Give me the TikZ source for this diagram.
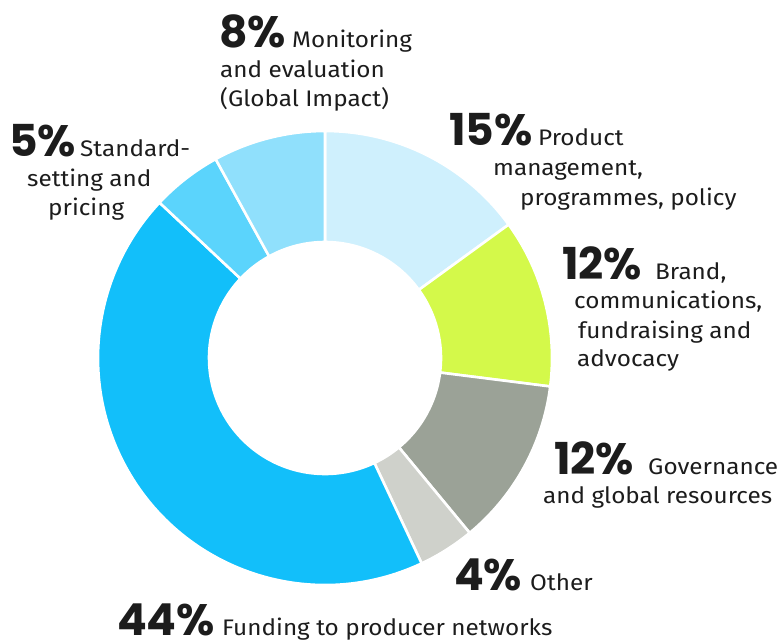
\documentclass[tikz,border=0pt]{standalone}
\usepackage{fontspec}
\setmainfont{Fira Sans}[FakeStretch=1.08]
\newfontfamily\pctfont{Poppins}
\usepackage{xcolor}
\usepackage{tikz}
\usetikzlibrary{positioning}

\definecolor{pmblue}{HTML}{CFF0FD}
\definecolor{brandlime}{HTML}{D4F94A}
\definecolor{govgray}{HTML}{9BA297}
\definecolor{othergray}{HTML}{CFD1CB}
\definecolor{fundblue}{HTML}{12BFFA}
\definecolor{stdblue}{HTML}{5BD4FC}
\definecolor{monblue}{HTML}{90E0FC}
\definecolor{inkdark}{HTML}{1C1C1C}

\tikzset{
  pct/.style={inner sep=0, anchor=base west, text=inkdark,
    font=\pctfont\bfseries\fontsize{44}{44}\selectfont},
  lbl/.style={inner sep=0, anchor=base west, text=inkdark,
    font=\fontsize{22.5}{30}\selectfont},
  slice/.style={draw=white, line width=2.6}
}

\begin{document}
\begin{tikzpicture}[x=1pt,y=1pt]
    \useasboundingbox (0,-641) rectangle (779,0);
    % ring
    \begin{scope}[shift={(325,-358)}]
      \foreach \a/\b/\c in {90/36/pmblue, 36/-7.2/brandlime, -7.2/-50.4/govgray,
                            -50.4/-64.8/othergray, -64.8/-223.2/fundblue,
                            136.8/118.8/stdblue, 118.8/90/monblue}
        \fill[\c, slice] (\a:227) arc[start angle=\a, end angle=\b, radius=227]
          -- (\b:116) arc[start angle=\b, end angle=\a, radius=116] -- cycle;
    \end{scope}
    % monitoring
    \node[pct] (p8) at (219,-47) {8\%};
    \node[lbl] (t8a) at (292,-47) {Monitoring};
    \node[lbl] (t8b) at (220,-77) {and evaluation};
    \node[lbl] (t8c) at (220,-106) {(Global Impact)};
    % standard-setting
    \node[pct] (p5) at (9,-156) {5\%};
    \node[lbl] (t5a) at (80,-156) {Standard-};
    \node[lbl] (t5b) at (27,-186) {setting and};
    \node[lbl] (t5c) at (48,-215) {pricing};
    % product management
    \node[pct] (p15) at (449,-145) {15\%};
    \node[lbl] (t15a) at (538,-145) {Product};
    \node[lbl] (t15b) at (493,-175) {management,};
    \node[lbl] (t15c) at (520,-205) {programmes, policy};
    % brand
    \node[pct] (p12a) at (562,-279) {12\%};
    \node[lbl] (t12a) at (655,-279) {Brand,};
    \node[lbl] (t12b) at (574,-308) {communications,};
    \node[lbl] (t12c) at (578,-338) {fundraising and};
    \node[lbl] (t12d) at (577,-366) {advocacy};
    % governance
    \node[pct] (p12g) at (554,-474) {12\%};
    \node[lbl] (tga) at (648,-474) {Governance};
    \node[lbl] (tgb) at (543,-503) {and global resources};
    % other
    \node[pct] (p4) at (454,-590) {4\%};
    \node[lbl] (t4) at (530,-590) {Other};
    % producer networks
    \node[pct] (p44) at (117,-635) {44\%};
    \node[lbl] (t44) at (222,-635) {Funding to producer networks};
\end{tikzpicture}
\end{document}
